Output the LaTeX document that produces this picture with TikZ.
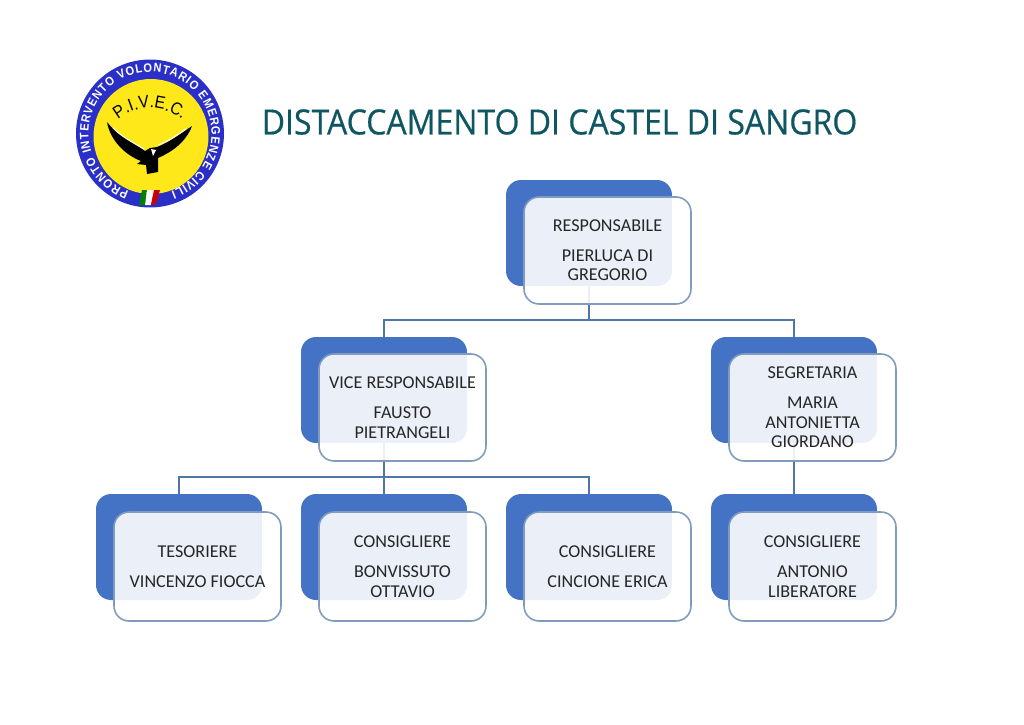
\documentclass[tikz,border=0pt]{standalone}
\usepackage{fontspec}
\setmainfont{Carlito}
\newfontfamily\logofont[FakeStretch=0.9]{Liberation Sans}
\newfontfamily\titlefont[FakeBold=0.5, FakeStretch=0.92]{Open Sans}
\usetikzlibrary{arrows.meta, positioning, decorations.text}
\definecolor{boxblue}{HTML}{4472C4}
\definecolor{edgeblue}{HTML}{7F9BBF}
\definecolor{linkblue}{HTML}{4F76A6}
\definecolor{titleteal}{HTML}{0F5663}
\definecolor{ringblue}{HTML}{2A2FC8}
\definecolor{sealyellow}{HTML}{FFE81A}
\begin{document}
\begin{tikzpicture}[
    x=0.02cm, y=0.02cm,
    backbox/.style={rectangle, fill=boxblue, rounded corners=3mm, minimum width=3.32cm, minimum height=2.12cm, inner sep=0pt},
    frontbox/.style={rectangle, draw=edgeblue, line width=0.9pt, fill=white, fill opacity=0.89, text opacity=1, rounded corners=3mm, minimum width=3.34cm, minimum height=2.14cm, inner sep=0pt, align=center, font=\fontsize{10.3}{11.3}\selectfont, text=black!85, xshift=0.37cm, yshift=-0.35cm},
    lowbox/.style={frontbox, minimum height=2.18cm, yshift=-0.04cm},
    link/.style={draw=linkblue, line width=0.8pt},
]
\useasboundingbox (0,0) rectangle (1024,-724);

% Logo
\fill[ringblue] (150,-133.5) circle [radius=1.48cm];
\fill[sealyellow] (151,-136.5) circle [radius=1.15cm];
\fill[green!50!black] (142,-190) -- (147,-190) -- (145,-205) -- (139,-205) -- cycle;
\fill[white] (147,-190) -- (154,-190) -- (151,-205) -- (145,-205) -- cycle;
\fill[red!80!black] (154,-190) -- (160,-190) -- (156,-204) -- (151,-205) -- cycle;
\path[decorate, decoration={text along path, text align={fit to path}, text={|\logofont\bfseries\fontsize{7}{8}\selectfont\color{white}|PRONTO INTERVENTO VOLONTARIO EMERGENZE CIVILI}}]
    (150,-133.5) ++(250:1.23cm) arc [start angle=250, end angle=-70, radius=1.23cm];
\path[decorate, decoration={text along path, text align=center, text={|\logofont\fontsize{10}{11}\selectfont|P.I.V.E.C.}}]
    (150,-158) ++(135:1cm) arc [start angle=135, end angle=45, radius=1cm];
\fill[black] (107,-122) .. controls (117,-135) and (130,-140) .. (145,-151) -- (150,-148) -- (157,-147)
    .. controls (170,-142) and (180,-134) .. (192,-126)
    .. controls (186,-142) and (172,-152) .. (158,-158) -- (158,-172) -- (147,-174) -- (146,-165) -- (137,-164) -- (141,-161)
    .. controls (125,-155) and (110,-140) .. (107,-122) -- cycle;
\draw[white, line width=0.6pt] (113,-128) .. controls (122,-137) and (132,-142) .. (144,-149);
\draw[white, line width=0.6pt] (186,-129) .. controls (176,-136) and (168,-141) .. (158,-145);
\fill[white] (151,-149) -- (156,-150) -- (153,-156) -- cycle;

% Title
\node[font=\titlefont\fontsize{19.8}{22}\selectfont, text=titleteal, inner sep=0pt] (title) at (559.5,-122) {DISTACCAMENTO DI CASTEL DI SANGRO};

% Back boxes
\node[backbox] (respb) at (589,-233) {};
\node[backbox] (viceb) at (384,-390) {};
\node[backbox] (segrb) at (794,-390) {};
\node[backbox] (tesob) at (179,-547) {};
\node[backbox] (bonvb) at (384,-547) {};
\node[backbox] (cincb) at (589,-547) {};
\node[backbox] (antob) at (794,-547) {};
\coordinate (busa) at (589,-320);
\coordinate (busb) at (384,-477);

% Connectors
\draw[link] (respb.south) -- (busa);
\draw[link] (busa) -| (viceb.north);
\draw[link] (busa) -| (segrb.north);
\draw[link] (viceb.south) -- (bonvb.north);
\draw[link] (busb) -| (tesob.north);
\draw[link] (busb) -| (cincb.north);
\draw[link] (segrb.south) -- (antob.north);

% Front boxes
\node[frontbox] (resp) at (respb) {RESPONSABILE\\[5.5pt]PIERLUCA DI\\GREGORIO};
\node[frontbox] (vice) at (viceb) {VICE RESPONSABILE\\[5.5pt]FAUSTO\\PIETRANGELI};
\node[frontbox] (segr) at (segrb) {SEGRETARIA\\[5.5pt]MARIA\\ANTONIETTA\\GIORDANO};
\node[lowbox] (teso) at (tesob) {TESORIERE\\[5.5pt]VINCENZO FIOCCA};
\node[lowbox] (bonv) at (bonvb) {CONSIGLIERE\\[5.5pt]BONVISSUTO\\OTTAVIO};
\node[lowbox] (cinc) at (cincb) {CONSIGLIERE\\[5.5pt]CINCIONE ERICA};
\node[lowbox] (anto) at (antob) {CONSIGLIERE\\[5.5pt]ANTONIO\\LIBERATORE};

\end{tikzpicture}
\end{document}
